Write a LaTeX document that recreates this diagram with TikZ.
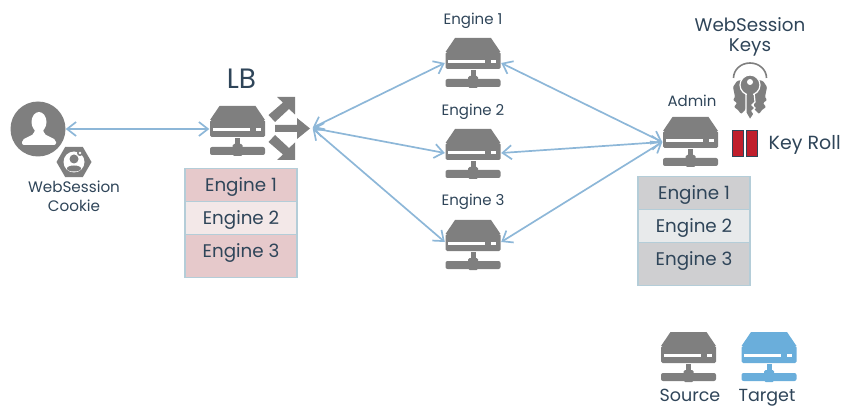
\documentclass[tikz,border=0pt]{standalone}
\usepackage{fontspec}
\setmainfont{Poppins}
\usetikzlibrary{arrows.meta,shapes.geometric}
\definecolor{srvgray}{HTML}{7F7F7F}
\definecolor{srvblue}{HTML}{6AAEDB}
\definecolor{linkblue}{HTML}{8DB7D8}
\definecolor{inkblue}{HTML}{2F4559}
\definecolor{rowedge}{HTML}{B4CDD8}
\definecolor{rowred}{HTML}{E6C9CB}
\definecolor{rowpale}{HTML}{F3E8E8}
\definecolor{rowgray}{HTML}{CFCFD1}
\definecolor{rowlight}{HTML}{E8EAEB}
\definecolor{rollred}{HTML}{C01F2D}
\tikzset{
  x=1pt,y=-1pt,
  txt/.style={inner sep=0,text=inkblue,font=\fontsize{#1}{#1}\selectfont},
  srvnode/.style={inner sep=0,minimum width=56,minimum height=17},
  link/.style={draw=linkblue,line width=1.7,{Straight Barb[length=9,width=14]}-{Straight Barb[length=9,width=14]}},
  rowbox/.style={draw=rowedge,line width=1.3,fill=#1,inner sep=0,minimum width=112,anchor=north,
    text=inkblue,font=\fontsize{18.3}{18.3}\selectfont,text height=23,text depth=10},
  rollbox/.style={draw=inkblue,fill=rollred,line width=1,inner sep=0,minimum width=11,minimum height=26},
  pics/server/.style={code={
    \fill[#1] (-18,-25)--(18,-25)--(27.5,-11)--(-27.5,-11)--cycle;
    \fill[#1,rounded corners=1.5] (-27.5,-11) rectangle (27.5,6);
    \fill[white] (-25,-3) rectangle (12,0);
    \fill[white] (18,-3) rectangle (23,0);
    \fill[#1] (-2.5,7) rectangle (2.5,16);
    \fill[#1,rounded corners=2] (-27.5,16) rectangle (27.5,24);
    \fill[#1,rounded corners=1.5] (-5,13) rectangle (5,25);
  }},
}
\begin{document}
\begin{tikzpicture}
\useasboundingbox (0,0) rectangle (843,406);
% user and cookie
\node[circle,fill=srvgray,inner sep=0,minimum size=55] (user) at (38,129) {};
\fill[white] (39,122) ellipse (7.5 and 10);
\fill[white,rounded corners=2] (22,145) -- (22,140) -- (34,134) -- (35,128) -- (43,128) -- (44,134) -- (56,140) -- (56,145) -- cycle;
\node[regular polygon,regular polygon sides=6,fill=srvgray,inner sep=0,minimum size=35] (cookie) at (74,162) {};
\fill[white] (74,162) circle (10.5);
\fill[srvgray] (74,159) circle (4.5);
\fill[srvgray] (74,168.5) ellipse (7 and 3);
\fill[srvgray] (80,153) circle (3);
\fill[white] (80,153) circle (1.3);
\node[txt=15.2] (cookietxt1) at (74,187) {WebSession};
\node[txt=15.2] (cookietxt2) at (74,206) {Cookie};
% load balancer
\pic at (237.5,131) {server=srvgray};
\node[srvnode] (lb) at (237.5,129) {};
\node[txt=28] (lbtxt) at (241.5,79) {LB};
\fill[srvgray] (275,125)--(297,125)--(297,118)--(310,128.5)--(297,139)--(297,132)--(275,132)--cycle;
\foreach \s in {1,-1} {
  \begin{scope}[yshift=128.5*(1-\s)*-1pt,yscale=\s]
    \fill[srvgray] (268.5,115)--(283,102.5)--(277,97)--(295,97)--(295,114.5)--(289,109)--(275,122)--cycle;
  \end{scope}
}
\node[inner sep=0,minimum size=1] (fan) at (312,128) {};
% key material on the load balancer
\node[rowbox=rowred] (lbrow1) at (241,168) {Engine 1};
\node[rowbox=rowpale] (lbrow2) at (241,201) {Engine 2};
\node[rowbox=rowred,text depth=20] (lbrow3) at (241,234) {Engine 3};
% engines
\foreach \i/\y/\p/\t in {1/63/63/21,2/154/153/112,3/245/242/202} {
  \pic at (473,\y) {server=srvgray};
  \node[srvnode] (eng\i) at (473,\p) {};
  \node[txt=15] (engtxt\i) at (473,\t) {Engine \i};
}
% admin
\pic at (690.5,142) {server=srvgray};
\node[srvnode] (admin) at (690.5,142) {};
\node[txt=15] (admintxt) at (692,101) {Admin};
\node[rowbox=rowgray] (adminrow1) at (694,176) {Engine 1};
\node[rowbox=rowlight] (adminrow2) at (694,209) {Engine 2};
\node[rowbox=rowgray,text depth=20] (adminrow3) at (694,242) {Engine 3};
% keys
\node[txt=18.3] (keytxt1) at (750,25) {WebSession};
\node[txt=18.3] (keytxt2) at (750,47) {Keys};
\draw[srvgray,line width=1.6] (733.5,78) arc[start angle=180,end angle=360,x radius=16.5,y radius=15];
\foreach \s in {1,-1} {
  \begin{scope}[xshift=750*(1-\s)*1pt,xscale=\s]
    \fill[srvgray,rounded corners=1] (746,79) -- (737,81) -- (733,87) -- (735,97) -- (733,100) -- (737,103) -- (734,107) -- (738,110) -- (741,114) -- (746,109) -- cycle;
  \end{scope}
}
\fill[srvgray,draw=white,line width=1.2] (746,92) -- (746,113) -- (750,120) -- (754,114) -- (752,111) -- (755,108) -- (752,105) -- (755,102) -- (754,92) -- cycle;
\fill[srvgray,draw=white,line width=1.2] (750,85) circle (10);
\fill[srvgray] (746.6,91) rectangle (753.4,97);
\fill[white] (750,82) circle (3);
\node[rollbox] (roll1) at (737.5,144) {};
\node[rollbox] (roll2) at (751.5,144) {};
\node[txt=19,anchor=west] (rolltxt) at (768.5,145) {Key Roll};
% legend
\pic at (688.5,357) {server=srvgray};
\pic at (769,357) {server=srvblue};
\node[txt=17.5,anchor=base] (srctxt) at (690,401) {Source};
\node[txt=17.5,anchor=base] (tgttxt) at (767,401) {Target};
% links
\draw[link] (user) -- (lb);
\foreach \i in {1,2,3} {
  \draw[link] (fan) -- (eng\i.west);
  \draw[link] (eng\i.east) -- (admin.west);
}
\end{tikzpicture}
\end{document}
